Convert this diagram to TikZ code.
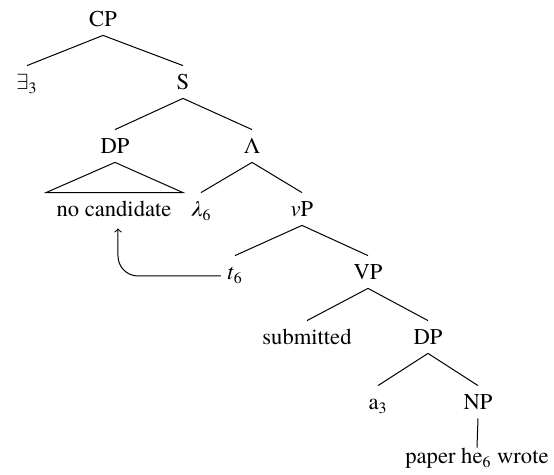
\documentclass[tikz,border=0pt]{standalone}
\usepackage{fontspec}
\setmainfont{texgyretermes}[Extension=.otf, UprightFont=*-regular, ItalicFont=*-italic, BoldFont=*-bold, BoldItalicFont=*-bolditalic]
\usetikzlibrary{calc}
\begin{document}
\begin{tikzpicture}[x=0.5pt, y=-0.5pt,
  lab/.style={anchor=base, inner sep=0pt, text height=12pt, text depth=4pt, font=\fontsize{11.3}{13.5}\selectfont},
  branch/.style={line width=0.5pt},
  move/.style={->, line width=0.5pt, rounded corners=10pt}]
\useasboundingbox (0,0) rectangle (554,475);
% labels, placed by their baselines
\node[lab] (cp)   at (103,27)  {CP};
\node[lab] (ex)   at (27,90)   {$\exists$\textsubscript{3}};
\node[lab] (s)    at (183,90)  {S};
\node[lab] (dpa)  at (115,154) {DP};
\node[lab] (lam)  at (252,154) {Λ};
\node[lab] (nc)   at (114,217) {no candidate};
\node[lab] (l6)   at (201,217) {\textit{λ}\textsubscript{6}};
\node[lab] (vp)   at (302,217) {\textit{v}P};
\node[lab] (t6)   at (235,280) {\textit{t}\textsubscript{6}};
\node[lab] (vpp)  at (368,280) {VP};
\node[lab] (sub)  at (307,345) {submitted};
\node[lab] (dpb)  at (428,345) {DP};
\node[lab] (a3)   at (378,410) {a\textsubscript{3}};
\node[lab] (np)   at (478,410) {NP};
\node[lab, text height=8pt] (pw) at (477,464) {paper he\textsubscript{6} wrote};
% branches
\draw[branch] (cp.south) -- (ex.north);
\draw[branch] (cp.south) -- (s.north);
\draw[branch] (s.south) -- (dpa.north);
\draw[branch] (s.south) -- (lam.north);
\draw[branch] (dpa.south) -- ($(nc.north)+(-68,0)$) -- ($(nc.north)+(69,0)$) -- cycle;
\draw[branch] (lam.south) -- (l6.north);
\draw[branch] (lam.south) -- (vp.north);
\draw[branch] (vp.south) -- (t6.north);
\draw[branch] (vp.south) -- (vpp.north);
\draw[branch] (vpp.south) -- (sub.north);
\draw[branch] (vpp.south) -- (dpb.north);
\draw[branch] (dpb.south) -- (a3.north);
\draw[branch] (dpb.south) -- (np.north);
\draw[branch] (np.south) -- (pw.north);
% movement arrow from the trace to the raised DP
\coordinate (tr) at ($(t6.base west)+(-6,-4)$);
\coordinate (land) at ($(nc.south)+(4,3)$);
\draw[move] (tr) -| (land);
\end{tikzpicture}
\end{document}
